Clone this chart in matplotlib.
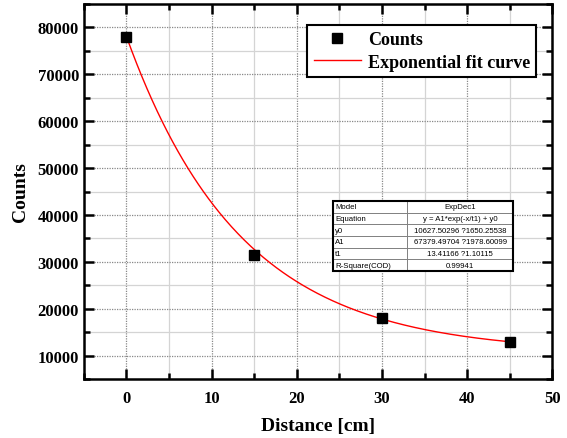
import numpy as np
import matplotlib
matplotlib.use("Agg")
import matplotlib.pyplot as plt
from matplotlib.ticker import MultipleLocator
from matplotlib.patches import Rectangle

# Measured counts vs. distance
distance_cm = [0, 15, 30, 45]
counts = [78000, 31400, 18000, 13000]

# Exponential decay fit: y = A1*exp(-x/t1) + y0
fit_y0 = 10627.50296
fit_A1 = 67379.49704
fit_t1 = 13.41166

table_rows = [
    ["Model", "ExpDec1"],
    ["Equation", "y = A1*exp(-x/t1) + y0"],
    ["y0", "10627.50296 ?1650.25538"],
    ["A1", "67379.49704 ?1978.60099"],
    ["t1", "13.41166 ?1.10115"],
    ["R-Square(COD)", "0.99941"],
]

serif = ["Liberation Serif", "DejaVu Serif"]

fig = plt.figure(figsize=(5.67, 4.39), dpi=100)
ax = fig.add_axes([0.148, 0.134, 0.826, 0.855])

x_fit = np.linspace(0, 45, 300)
y_fit = fit_A1 * np.exp(-x_fit / fit_t1) + fit_y0

ax.plot(distance_cm, counts, "s", color="black", markersize=7, label="Counts", zorder=4)
ax.plot(x_fit, y_fit, "-", color="red", linewidth=1.0, label="Exponential fit curve", zorder=3)

ax.set_xlim(-5, 50)
ax.set_ylim(5000, 85000)
ax.xaxis.set_major_locator(MultipleLocator(10))
ax.xaxis.set_minor_locator(MultipleLocator(5))
ax.yaxis.set_major_locator(MultipleLocator(10000))
ax.yaxis.set_minor_locator(MultipleLocator(5000))

ax.grid(which="major", color="#888888", linestyle=(0, (1, 1)), linewidth=0.9, zorder=0)
ax.grid(which="minor", color="#d4d4d4", linestyle="-", linewidth=0.9, zorder=0)
ax.set_axisbelow(True)

for sp in ax.spines.values():
    sp.set_linewidth(1.8)

ax.tick_params(which="both", direction="in", top=True, right=True, width=1.8)
ax.tick_params(which="major", length=7)
ax.tick_params(which="minor", length=4)

for lab in ax.get_xticklabels() + ax.get_yticklabels():
    lab.set_family(serif)
    lab.set_fontweight("bold")
    lab.set_fontsize(12)
ax.tick_params(axis="x", pad=8)

ax.set_xlabel("Distance [cm]", family=serif, fontweight="bold", fontsize=14, labelpad=8)
ax.set_ylabel("Counts", family=serif, fontweight="bold", fontsize=14, labelpad=6)

leg = ax.legend(loc="upper right", bbox_to_anchor=(0.966, 0.944), borderaxespad=0,
                prop={"family": serif, "weight": "bold", "size": 13},
                fancybox=False, framealpha=1, edgecolor="black",
                handlelength=2.6, handletextpad=0.4, borderpad=0.35,
                labelspacing=0.3)
leg.get_frame().set_linewidth(1.5)

# Fit summary table
tbl_left, tbl_bottom, tbl_w, tbl_h = 0.532, 0.288, 0.385, 0.187
tbl = ax.table(cellText=table_rows, cellLoc="center",
               colWidths=[0.41, 0.59],
               bbox=[tbl_left, tbl_bottom, tbl_w, tbl_h], zorder=5)
tbl.auto_set_font_size(False)
for (r, c), cell in tbl.get_celld().items():
    cell.set_edgecolor("#777777")
    cell.set_linewidth(0.6)
    cell.set_facecolor("white")
    cell.get_text().set_fontsize(5.6)
    cell.get_text().set_family(["Liberation Sans", "DejaVu Sans"])
    if c == 0:
        cell.get_text().set_horizontalalignment("left")
        cell.PAD = 0.03
tbl.set_zorder(5)
ax.add_patch(Rectangle((tbl_left, tbl_bottom), tbl_w, tbl_h, transform=ax.transAxes,
                       fill=False, edgecolor="black", linewidth=1.5, zorder=6))

fig.savefig("out.png", dpi=100)
